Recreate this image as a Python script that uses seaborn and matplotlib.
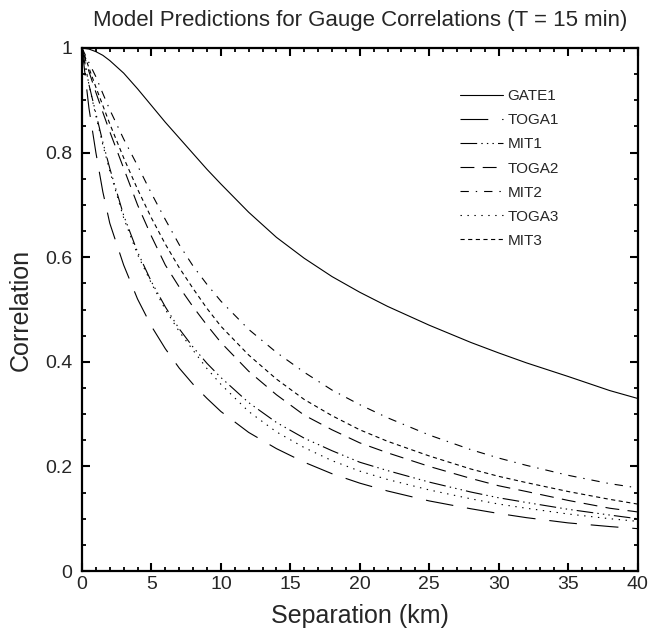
import matplotlib
matplotlib.use("Agg")
import matplotlib.pyplot as plt
from matplotlib.ticker import MultipleLocator, FuncFormatter
import seaborn as sns
import pandas as pd

# ---- data ----
separation_km = [0, 0.5, 1, 1.5, 2, 3, 4, 5, 6, 7, 8, 9, 10, 12, 14, 16, 18, 20,
                 22, 25, 28, 30, 32, 35, 38, 40]
gate1 = [1.000, 0.998, 0.993, 0.986, 0.976, 0.952, 0.922, 0.890, 0.858, 0.828, 0.798, 0.768, 0.740,
         0.686, 0.638, 0.598, 0.563, 0.533, 0.506, 0.470, 0.437, 0.417, 0.398, 0.372, 0.345, 0.330]
toga1 = [1.000, 0.885, 0.800, 0.725, 0.665, 0.585, 0.520, 0.468, 0.425, 0.388, 0.357, 0.330, 0.305,
         0.265, 0.234, 0.208, 0.186, 0.168, 0.153, 0.134, 0.119, 0.110, 0.102, 0.092, 0.085, 0.081]
mit1 = [1.000, 0.930, 0.875, 0.820, 0.770, 0.680, 0.610, 0.553, 0.505, 0.463, 0.428, 0.397, 0.370,
        0.322, 0.284, 0.254, 0.230, 0.208, 0.192, 0.170, 0.151, 0.140, 0.131, 0.118, 0.107, 0.100]
toga2 = [1.000, 0.955, 0.915, 0.877, 0.840, 0.770, 0.700, 0.640, 0.585, 0.543, 0.505, 0.470, 0.437,
         0.382, 0.337, 0.298, 0.270, 0.245, 0.226, 0.200, 0.177, 0.163, 0.152, 0.135, 0.120, 0.113]
mit2 = [1.000, 0.972, 0.945, 0.913, 0.882, 0.826, 0.775, 0.722, 0.672, 0.624, 0.583, 0.548, 0.516,
        0.462, 0.418, 0.380, 0.346, 0.318, 0.293, 0.260, 0.232, 0.216, 0.202, 0.183, 0.167, 0.159]
toga3 = [1.000, 0.930, 0.870, 0.815, 0.765, 0.675, 0.605, 0.550, 0.500, 0.458, 0.422, 0.387, 0.357,
         0.305, 0.266, 0.236, 0.211, 0.191, 0.175, 0.155, 0.138, 0.128, 0.120, 0.109, 0.100, 0.095]
mit3 = [1.000, 0.962, 0.925, 0.890, 0.855, 0.790, 0.730, 0.675, 0.625, 0.580, 0.540, 0.502, 0.468,
        0.413, 0.367, 0.328, 0.297, 0.270, 0.248, 0.220, 0.195, 0.181, 0.169, 0.152, 0.137, 0.128]

models = ["GATE1", "TOGA1", "MIT1", "TOGA2", "MIT2", "TOGA3", "MIT3"]
series = [gate1, toga1, mit1, toga2, mit2, toga3, mit3]

title = "Model Predictions for Gauge Correlations (T = 15 min)"
xlabel = "Separation (km)"
ylabel = "Correlation"

# ---- styling ----
linestyles = {
    "GATE1": "-",
    "TOGA1": (0, (20, 10)),
    "MIT1": (0, (12, 3, 1, 3, 1, 3, 1, 3)),
    "TOGA2": (0, (10, 6)),
    "MIT2": (0, (6, 5, 1, 5)),
    "TOGA3": (0, (1, 4)),
    "MIT3": (0, (3, 2.5)),
}

sns.set_style("ticks")
plt.rcParams["font.family"] = ["Liberation Sans", "DejaVu Sans"]
plt.rcParams["lines.scale_dashes"] = False

rows = []
for m, vals in zip(models, series):
    for x, y in zip(separation_km, vals):
        rows.append({"model": m, "sep": x, "corr": y})
df = pd.DataFrame(rows)

fig = plt.figure(figsize=(6.48, 6.34), dpi=100)
ax = fig.add_axes([82 / 648, 1 - 571 / 634, (637.5 - 82) / 648, (571 - 48) / 634])

for m in models:
    sns.lineplot(data=df[df["model"] == m], x="sep", y="corr", color="black",
                 linewidth=0.8, linestyle=linestyles[m], label=m, ax=ax)

ax.set_xlim(0, 40)
ax.set_ylim(0, 1)
ax.xaxis.set_major_locator(MultipleLocator(5))
ax.xaxis.set_minor_locator(MultipleLocator(1))
ax.yaxis.set_major_locator(MultipleLocator(0.2))
ax.yaxis.set_minor_locator(MultipleLocator(0.05))
ax.yaxis.set_major_formatter(FuncFormatter(lambda v, p: f"{v:g}"))
ax.xaxis.set_major_formatter(FuncFormatter(lambda v, p: f"{v:g}"))

for s in ax.spines.values():
    s.set_visible(True)
    s.set_linewidth(1.6)
    s.set_color("black")

ax.tick_params(which="both", direction="in", top=True, right=True, color="black")
ax.tick_params(which="major", length=5.8, width=1.5, labelsize=14)
ax.tick_params(which="minor", length=3.0, width=1.3)
ax.tick_params(axis="x", which="major", pad=3.5)
ax.tick_params(axis="y", which="major", pad=7)

ax.set_title(title, fontsize=16, pad=16)
ax.set_xlabel(xlabel, fontsize=18)
ax.set_ylabel(ylabel, fontsize=18)
ax.xaxis.set_label_coords(0.5, -0.064)
ax.yaxis.set_label_coords(-0.088, 0.5)

leg = ax.legend(loc="upper left", bbox_to_anchor=(0.680, 0.921), frameon=False,
                fontsize=11, handlelength=2.8, handletextpad=0.33,
                labelspacing=0.66, borderpad=0, borderaxespad=0)

fig.savefig("out.png", dpi=100, facecolor="white")
